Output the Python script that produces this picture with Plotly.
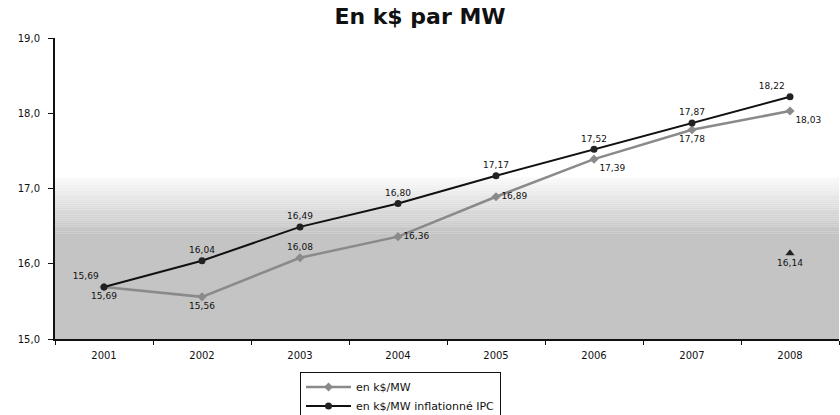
import plotly.graph_objects as go

years = ["2001", "2002", "2003", "2004", "2005", "2006", "2007", "2008"]
k_mw = [15.69, 15.56, 16.08, 16.36, 16.89, 17.39, 17.78, 18.03]
k_mw_ipc = [15.69, 16.04, 16.49, 16.80, 17.17, 17.52, 17.87, 18.22]
extra_year = ["2008"]
extra_val = [16.14]
y_ticks = [15.0, 16.0, 17.0, 18.0, 19.0]

pos_gray = ["bottom center", "bottom center", "top center", "middle right",
            "middle right", "bottom right", "bottom center", "bottom right"]
pos_black = ["top left", "top center", "top center", "top center",
             "top center", "top center", "top center", "top left"]

FONT = "DejaVu Sans, Arial"
lbl_font = dict(family=FONT, size=9, color="#111")

fig = go.Figure()

fig.add_trace(go.Scatter(
    x=years, y=k_mw, name="en k$/MW", mode="lines+markers+text",
    line=dict(color="#8a8a8a", width=2.5),
    marker=dict(symbol="diamond", size=7, color="#8a8a8a"),
    texttemplate="%{y:.2f}", textposition=pos_gray, textfont=lbl_font,
))
fig.add_trace(go.Scatter(
    x=years, y=k_mw_ipc, name="en k$/MW inflationné IPC", mode="lines+markers+text",
    line=dict(color="#111111", width=2),
    marker=dict(symbol="circle", size=7, color="#222222"),
    texttemplate="%{y:.2f}", textposition=pos_black, textfont=lbl_font,
))
fig.add_trace(go.Scatter(
    x=extra_year, y=extra_val, mode="markers+text", showlegend=False,
    marker=dict(symbol="triangle-up", size=8, color="#222222"),
    texttemplate="%{y:.2f}", textposition="bottom center", textfont=lbl_font,
))

# background shading (gradient approximated with thin bands)
shapes = []
top, full = 17.15, 16.4
n = 30
base = 196
for i in range(n):
    y1 = top - (top - full) * i / n
    y0 = top - (top - full) * (i + 1) / n
    g = int(252 - (252 - base) * (i + 1) / n)
    shapes.append(dict(type="rect", xref="paper", yref="y", x0=0, x1=1, y0=y0, y1=y1,
                       fillcolor=f"rgb({g},{g},{g})", line=dict(width=0), layer="below"))
shapes.append(dict(type="rect", xref="paper", yref="y", x0=0, x1=1, y0=15.0, y1=full,
                   fillcolor=f"rgb({base},{base},{base})", line=dict(width=0), layer="below"))

fig.update_layout(
    width=840, height=415,
    margin=dict(l=55, r=1, t=38, b=76, autoexpand=False),
    paper_bgcolor="white", plot_bgcolor="white",
    separators=",.",
    shapes=shapes,
    title=dict(text="<b>En k$ par MW</b>", x=0.5, xanchor="center", y=0.98, yanchor="top",
               font=dict(family=FONT, size=22, color="#111")),
    font=dict(family=FONT, size=10, color="#111"),
    xaxis=dict(type="category", range=[-0.5, 7.5], showgrid=False, showline=True,
               linecolor="#111", linewidth=1.5, ticks="outside", tickson="boundaries",
               ticklen=4, tickcolor="#111", tickfont=dict(size=10), zeroline=False,
               automargin=False, ticklabelstandoff=6),
    yaxis=dict(range=[15.0, 19.0], tickvals=y_ticks, tickformat=".1f", showgrid=False,
               showline=True, linecolor="#111", linewidth=2, ticks="outside", ticklen=5,
               tickcolor="#111", tickfont=dict(size=10), zeroline=False,
               automargin=False, ticklabelstandoff=6),
    legend=dict(x=0.3125, y=-0.108, xanchor="left", yanchor="top",
                bordercolor="#111", borderwidth=1, bgcolor="white",
                font=dict(family=FONT, size=11), tracegroupgap=0, itemwidth=45),
)

fig.write_html("out.html", config={"displayModeBar": False},
               post_script="document.body.style.margin='0';document.body.style.overflow='hidden';")
